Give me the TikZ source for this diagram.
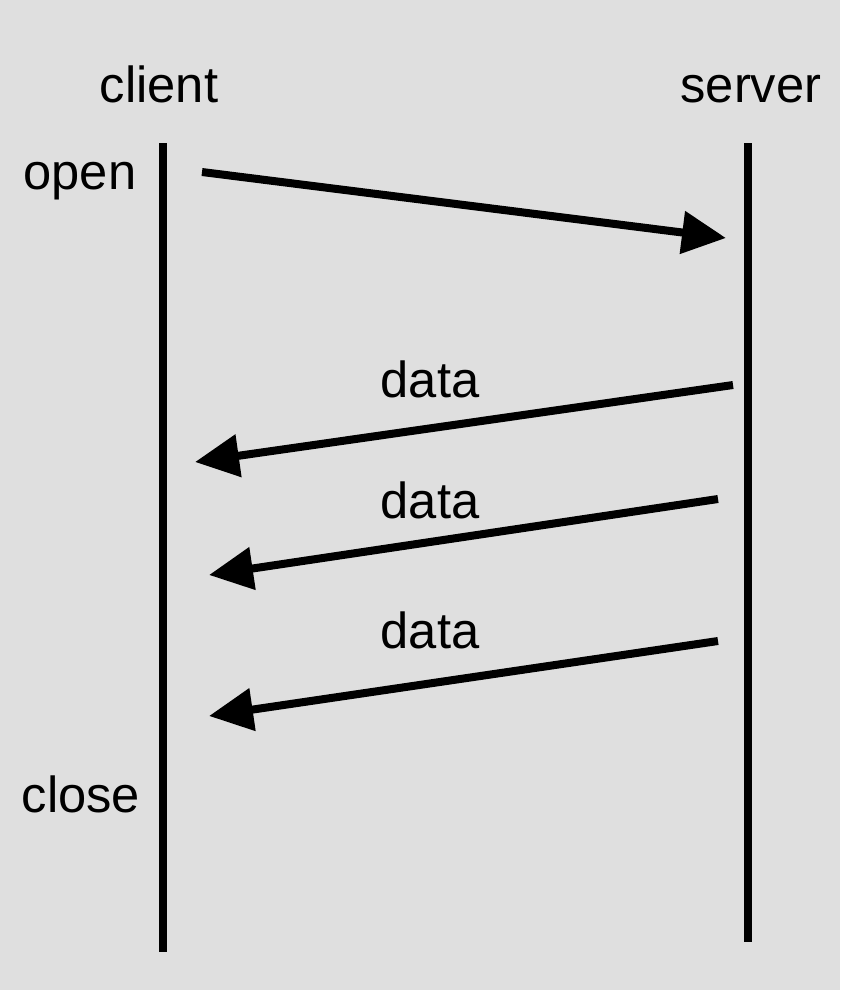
\documentclass[tikz,border=0pt]{standalone}
\usepackage{fontspec}
\setmainfont{Liberation Sans}
\usetikzlibrary{arrows.meta, positioning}

\tikzset{
  lifeline/.style={line width=5.5pt},
  msg/.style={line width=6pt, -{Triangle[length=33pt, width=31pt]}},
  lbl/.style={anchor=base, inner sep=0pt, font=\fontsize{38}{44}\selectfont}
}

\begin{document}
\begin{tikzpicture}[x=0.75pt, y=-0.75pt]
\fill[gray!25] (0,0) rectangle (840,990);
\useasboundingbox (0,0) rectangle (840,990);

% lifelines
\coordinate (ctop) at (163,143);
\coordinate (cbot) at (163,952);
\coordinate (stop) at (748,143);
\coordinate (sbot) at (748,942);
\draw[lifeline] (ctop) -- (cbot);
\draw[lifeline] (stop) -- (sbot);

\node[lbl] (client) at (159,102) {client};
\node[lbl] (server) at (751,102) {server};
\node[lbl] (open) at (80,189) {open};
\node[lbl] (close) at (81,812) {close};

% messages
\coordinate (o0) at (202,172);
\coordinate (o1) at (726,238);
\coordinate (d0a) at (733,385);
\coordinate (d0b) at (195,462);
\coordinate (d1a) at (718,499);
\coordinate (d1b) at (209,575);
\coordinate (d2a) at (718,641);
\coordinate (d2b) at (209,716);

\draw[msg] (o0) -- (o1);
\draw[msg] (d0a) -- (d0b);
\draw[msg] (d1a) -- (d1b);
\draw[msg] (d2a) -- (d2b);

\node[lbl] (data0) at (430,397) {data};
\node[lbl] (data1) at (430,518) {data};
\node[lbl] (data2) at (430,648) {data};
\end{tikzpicture}
\end{document}
